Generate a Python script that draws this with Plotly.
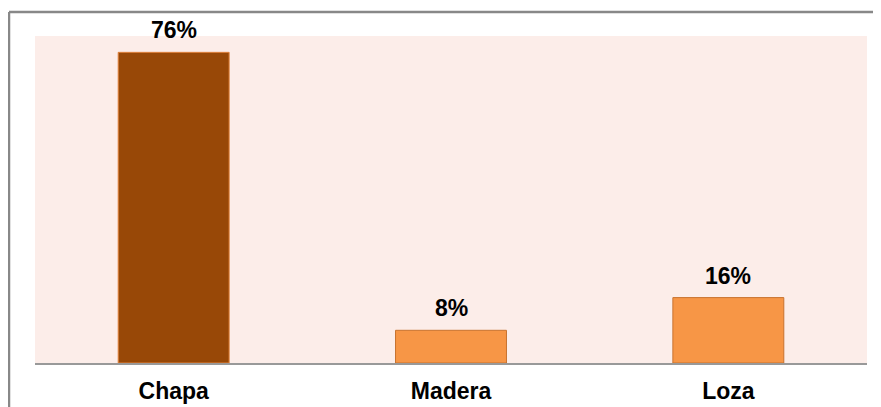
import plotly.graph_objects as go

categories = ["Chapa", "Madera", "Loza"]
values = [76, 8, 16]
labels = ["76%", "8%", "16%"]
bar_colors = ["#984807", "#F79646", "#F79646"]
line_colors = ["#E0813A", "#C8732F", "#C8732F"]

FONT = "Liberation Sans, Arial"

fig = go.Figure()
fig.add_trace(go.Bar(
    x=categories, y=values,
    marker=dict(color=bar_colors, line=dict(color=line_colors, width=1)),
    width=0.4, hoverinfo="skip",
))

for c, v, t in zip(categories, values, labels):
    fig.add_annotation(x=c, y=v, text=f"<b>{t}</b>", showarrow=False,
                       yanchor="bottom", yshift=7,
                       font=dict(family=FONT, size=23, color="#000000"))

# page body has an 8px margin: figure is placed at (8, 8)
L, T, R, B = 27, 28, 14, 44
W, H = 873, 399
pw = W - L - R
ph = H - T - B

fig.update_layout(
    width=W, height=H,
    margin=dict(l=L, r=R, t=T, b=B, autoexpand=False),
    paper_bgcolor="white",
    plot_bgcolor="#FCEDE9",
    showlegend=False,
    xaxis=dict(showline=True, linecolor="#999999", linewidth=1.5, ticks="",
               tickfont=dict(family=FONT, size=23, color="#000000"),
               ticklabelstandoff=7, showgrid=False, zeroline=False, automargin=False),
    yaxis=dict(range=[0, 80], visible=False, showgrid=False, zeroline=False, automargin=False),
    shapes=[
        dict(type="line", xref="paper", yref="paper", x0=-(L - 1) / pw, x1=1.05,
             y0=(ph + T - 4) / ph, y1=(ph + T - 4) / ph,
             line=dict(color="#888888", width=2.5)),
        dict(type="line", xref="paper", yref="paper", x0=-(L - 1) / pw, x1=-(L - 1) / pw,
             y0=(ph + T - 4) / ph, y1=-B / ph,
             line=dict(color="#888888", width=2.5)),
    ],
)
fig.update_xaxes(tickvals=categories, ticktext=[f"<b>{c}</b>" for c in categories])

fig.write_html("out.html")
